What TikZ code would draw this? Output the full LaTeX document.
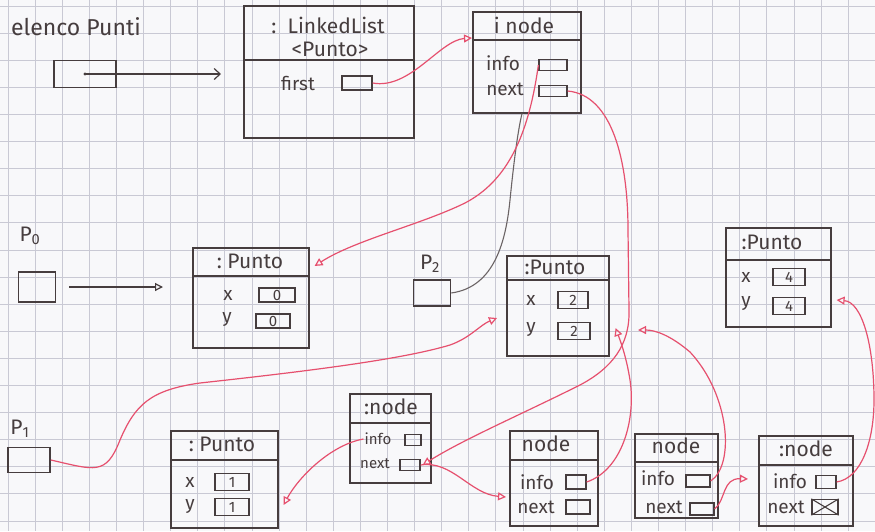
\documentclass[tikz,border=0pt]{standalone}
\usepackage{fontspec}
\setmainfont{Fira Sans}
\usetikzlibrary{arrows.meta}
\definecolor{ink}{HTML}{463D3E}
\definecolor{redink}{HTML}{E6506E}
\definecolor{gridline}{HTML}{C9C9D4}
\definecolor{paper}{HTML}{F8F8FA}

\begin{document}
\begin{tikzpicture}[x=1pt,y=-1pt,
  objbox/.style={draw=ink, line width=1.6pt, anchor=north west, inner sep=0pt},
  refbox/.style={draw=ink, line width=1.6pt, inner sep=0pt},
  field/.style={draw=ink, line width=1.3pt, inner sep=0pt, text=ink,
                font=\fontsize{15}{15}\selectfont},
  lbl/.style={text=ink, font=\fontsize{21}{21}\selectfont, inner sep=1pt},
  fld/.style={text=ink, font=\fontsize{19}{19}\selectfont, inner sep=1pt},
  sfld/.style={text=ink, font=\fontsize{15}{15}\selectfont, inner sep=1pt},
  divider/.style={draw=ink, line width=1.6pt},
  ptr/.style={draw=redink, line width=1.2pt,
              -{Triangle[open, length=8pt, width=8pt]}},
  gptr/.style={draw=ink, line width=1.2pt,
               -{Straight Barb[length=6pt, width=11pt]}},
  gptrtri/.style={draw=ink, line width=1.2pt,
                  -{Triangle[open, length=8pt, width=8pt]}},
  gline/.style={draw=ink!80, line width=1.1pt},
]

% graph paper
\fill[paper] (0,0) rectangle (875,531);
\useasboundingbox (0,0) rectangle (875,531);
\foreach \i in {0,...,32} \draw[gridline, line width=0.7pt] (8+27.1*\i,0) -- (8+27.1*\i,531);
\foreach \j in {0,...,19} \draw[gridline, line width=0.7pt] (0,6+27.1*\j) -- (875,6+27.1*\j);

% ---------- elencoPunti ----------
\node[lbl, font=\fontsize{23}{23}\selectfont] (elenco) at (76,27) {elenco Punti};
\node[refbox, minimum width=62pt, minimum height=27pt] (eref) at (85,74) {};
\fill[ink] (eref.center) circle (1.6pt);

% ---------- LinkedList<Punto> ----------
\node[objbox, minimum width=170pt, minimum height=132pt] (ll) at (243,5) {};
\draw[divider] (ll.west |- 0,60) -- (ll.east |- 0,60);
\node[lbl] (lltitle) at (328,25) {:\ \ LinkedList};
\node[lbl] (llparam) at (330,49) {\textless Punto\textgreater};
\node[fld] (llfirst) at (298,83) {first};
\node[field, minimum width=30pt, minimum height=14pt] (llfirstbox) at (357,83) {};

% ---------- head node ----------
\node[objbox, minimum width=108pt, minimum height=101pt] (inode) at (472,11) {};
\draw[divider] (inode.west |- 0,40) -- (inode.east |- 0,40);
\node[lbl] (inodetitle) at (524,25) {i node};
\node[fld] (inodeinfo) at (503,63) {info};
\node[field, minimum width=28pt, minimum height=11pt] (inodeinfobox) at (553,65) {};
\node[fld] (inodenext) at (505,89) {next};
\node[field, minimum width=28pt, minimum height=11pt] (inodenextbox) at (553,91) {};

% ---------- p0 and Punto(0,0) ----------
\node[lbl] (p0lbl) at (30,236) {P\textsubscript{0}};
\node[refbox, minimum width=37pt, minimum height=30pt] (p0) at (37,287) {};
\node[objbox, minimum width=116pt, minimum height=100pt] (punto0) at (192,247) {};
\draw[divider] (punto0.west |- 0,276) -- (punto0.east |- 0,276);
\node[lbl] (punto0title) at (250,261) {:\ Punto};
\node[fld] (punto0x) at (228,295) {x};
\node[field, minimum width=36pt, minimum height=14pt] (punto0xbox) at (277,295) {0};
\node[fld] (punto0y) at (227,320) {y};
\node[field, minimum width=34pt, minimum height=14pt] (punto0ybox) at (273,321) {0};

% ---------- p2 and Punto(2,2) ----------
\node[lbl] (p2lbl) at (430,264) {P\textsubscript{2}};
\node[refbox, minimum width=37pt, minimum height=26pt] (p2) at (432,293) {};
\node[objbox, minimum width=102pt, minimum height=100pt] (punto2) at (506,255) {};
\draw[divider] (punto2.west |- 0,280) -- (punto2.east |- 0,280);
\node[lbl] (punto2title) at (555,267) {:Punto};
\node[fld] (punto2x) at (531,300) {x};
\node[field, minimum width=30pt, minimum height=17pt] (punto2xbox) at (573,300) {2};
\node[fld] (punto2y) at (531,330) {y};
\node[field, minimum width=32pt, minimum height=17pt] (punto2ybox) at (574,331) {2};

% ---------- Punto(4,4) ----------
\node[objbox, minimum width=105pt, minimum height=99pt] (punto4) at (725,227) {};
\draw[divider] (punto4.west |- 0,260) -- (punto4.east |- 0,260);
\node[lbl] (punto4title) at (772,242) {:Punto};
\node[fld] (punto4x) at (746,277) {x};
\node[field, minimum width=32pt, minimum height=17pt] (punto4xbox) at (789,277) {4};
\node[fld] (punto4y) at (746,304) {y};
\node[field, minimum width=32pt, minimum height=17pt] (punto4ybox) at (789,306) {4};

% ---------- p1 and Punto(1,1) ----------
\node[lbl] (p1lbl) at (20,429) {P\textsubscript{1}};
\node[refbox, minimum width=42pt, minimum height=25pt] (p1) at (29,460) {};
\node[objbox, minimum width=107pt, minimum height=97pt] (punto1) at (170,430) {};
\draw[divider] (punto1.west |- 0,460) -- (punto1.east |- 0,460);
\node[lbl] (punto1title) at (222,444) {:\ Punto};
\node[fld] (punto1x) at (190,482) {x};
\node[field, minimum width=34pt, minimum height=17pt] (punto1xbox) at (232,482) {1};
\node[fld] (punto1y) at (190,507) {y};
\node[field, minimum width=34pt, minimum height=17pt] (punto1ybox) at (232,507) {1};

% ---------- list nodes ----------
\node[objbox, minimum width=81pt, minimum height=89pt] (mnode) at (349,393) {};
\draw[divider] (mnode.west |- 0,423) -- (mnode.east |- 0,423);
\node[lbl] (mnodetitle) at (391,407) {:node};
\node[sfld] (mnodeinfo) at (378,439) {info};
\node[field, minimum width=16pt, minimum height=11pt] (mnodeinfobox) at (413,440) {};
\node[sfld] (mnodenext) at (375,464) {next};
\node[field, minimum width=20pt, minimum height=11pt] (mnodenextbox) at (410,465) {};

\node[objbox, minimum width=88pt, minimum height=95pt] (node2) at (509,430) {};
\draw[divider] (node2.west |- 0,460) -- (node2.east |- 0,460);
\node[lbl] (node2title) at (546,444) {node};
\node[fld] (node2info) at (537,482) {info};
\node[field, minimum width=20pt, minimum height=14pt] (node2infobox) at (576,482) {};
\node[fld] (node2next) at (536,507) {next};
\node[field, minimum width=24pt, minimum height=14pt] (node2nextbox) at (578,507) {};

\node[objbox, minimum width=83pt, minimum height=84pt] (node3) at (634,433) {};
\draw[divider] (node3.west |- 0,462) -- (node3.east |- 0,462);
\node[lbl] (node3title) at (676,446) {node};
\node[fld] (node3info) at (658,478) {info};
\node[field, minimum width=24pt, minimum height=12pt] (node3infobox) at (698,481) {};
\node[fld] (node3next) at (664,507) {next};
\node[field, minimum width=24pt, minimum height=12pt] (node3nextbox) at (702,509) {};

\node[objbox, minimum width=94pt, minimum height=90pt] (node4) at (758,435) {};
\draw[divider] (node4.west |- 0,465) -- (node4.east |- 0,465);
\node[lbl] (node4title) at (806,449) {:node};
\node[fld] (node4info) at (790,481) {info};
\node[field, minimum width=20pt, minimum height=13pt] (node4infobox) at (826,482) {};
\node[fld] (node4next) at (786,507) {next};
\node[field, minimum width=26pt, minimum height=15pt] (node4nextbox) at (825,507) {};
\draw[ink, line width=1.1pt] (node4nextbox.north west) -- (node4nextbox.south east)
  (node4nextbox.south west) -- (node4nextbox.north east);

% ---------- plain reference arrows ----------
\draw[gptr, shorten >=22pt] (eref.center) -- (ll.west |- eref.center);
\draw[gptrtri, shorten <=13pt, shorten >=29pt] (p0.east) -- (punto0.west |- p0.east);
\draw[gline] (p2.east) .. controls (495,287) and (506,240) .. (510,200)
  .. controls (514,160) and (518,130) .. (inode.south -| 522,0);

% ---------- red pointers ----------
% first -> head node
\draw[ptr] (llfirstbox.east) .. controls (410,90) and (440,40) .. (inode.west |- 0,38);
% head info -> Punto(0,0)
\draw[ptr] (inodeinfobox.west) .. controls (528,140) and (505,182) .. (465,203)
  .. controls (420,225) and (355,240) .. ([xshift=5pt]punto0.east |- 0,266);
% head next -> middle node
\draw[ptr] (inodenextbox.east) .. controls (612,95) and (628,160) .. (628,230)
  -- (629,310) .. controls (630,345) and (612,368) .. (580,385)
  .. controls (520,415) and (462,440) .. ([xshift=2pt]mnodenextbox.east);
% middle info -> Punto(1,1)
\draw[ptr] (mnodeinfo.west) .. controls (330,445) and (298,478) .. ([xshift=5pt]punto1.east |- 0,505);
% middle next -> node2
\draw[ptr] (mnodenextbox.east) .. controls (452,460) and (470,494) .. ([xshift=-3pt]node2.west |- 0,497);
% node2 info -> Punto(2,2)
\draw[ptr] (node2infobox.east) .. controls (622,470) and (636,420) .. (630,380)
  .. controls (626,355) and (620,340) .. ([xshift=6pt]punto2.east |- 0,328);
% node3 info -> Punto(2,2)
\draw[ptr] (node3infobox.east) .. controls (735,465) and (730,395) .. (690,352)
  .. controls (670,335) and (655,330) .. (638,330);
% node3 next -> node4
\draw[ptr] (node3nextbox.east) .. controls (726,500) and (722,478) .. ([xshift=-10pt]node4.west |- 0,479);
% node4 info -> Punto(4,4)
\draw[ptr] (node4infobox.east) .. controls (862,478) and (874,440) .. (874,400)
  .. controls (874,345) and (862,302) .. ([xshift=5pt]punto4.east |- 0,300);
% p1 -> Punto(2,2)
\draw[ptr] (p1.east) .. controls (95,470) and (106,476) .. (120,440)
  .. controls (135,405) and (150,390) .. (200,383)
  .. controls (300,372) and (400,360) .. (450,345)
  .. controls (470,338) and (480,325) .. ([xshift=-9pt]punto2.west |- 0,318);

\end{tikzpicture}
\end{document}
